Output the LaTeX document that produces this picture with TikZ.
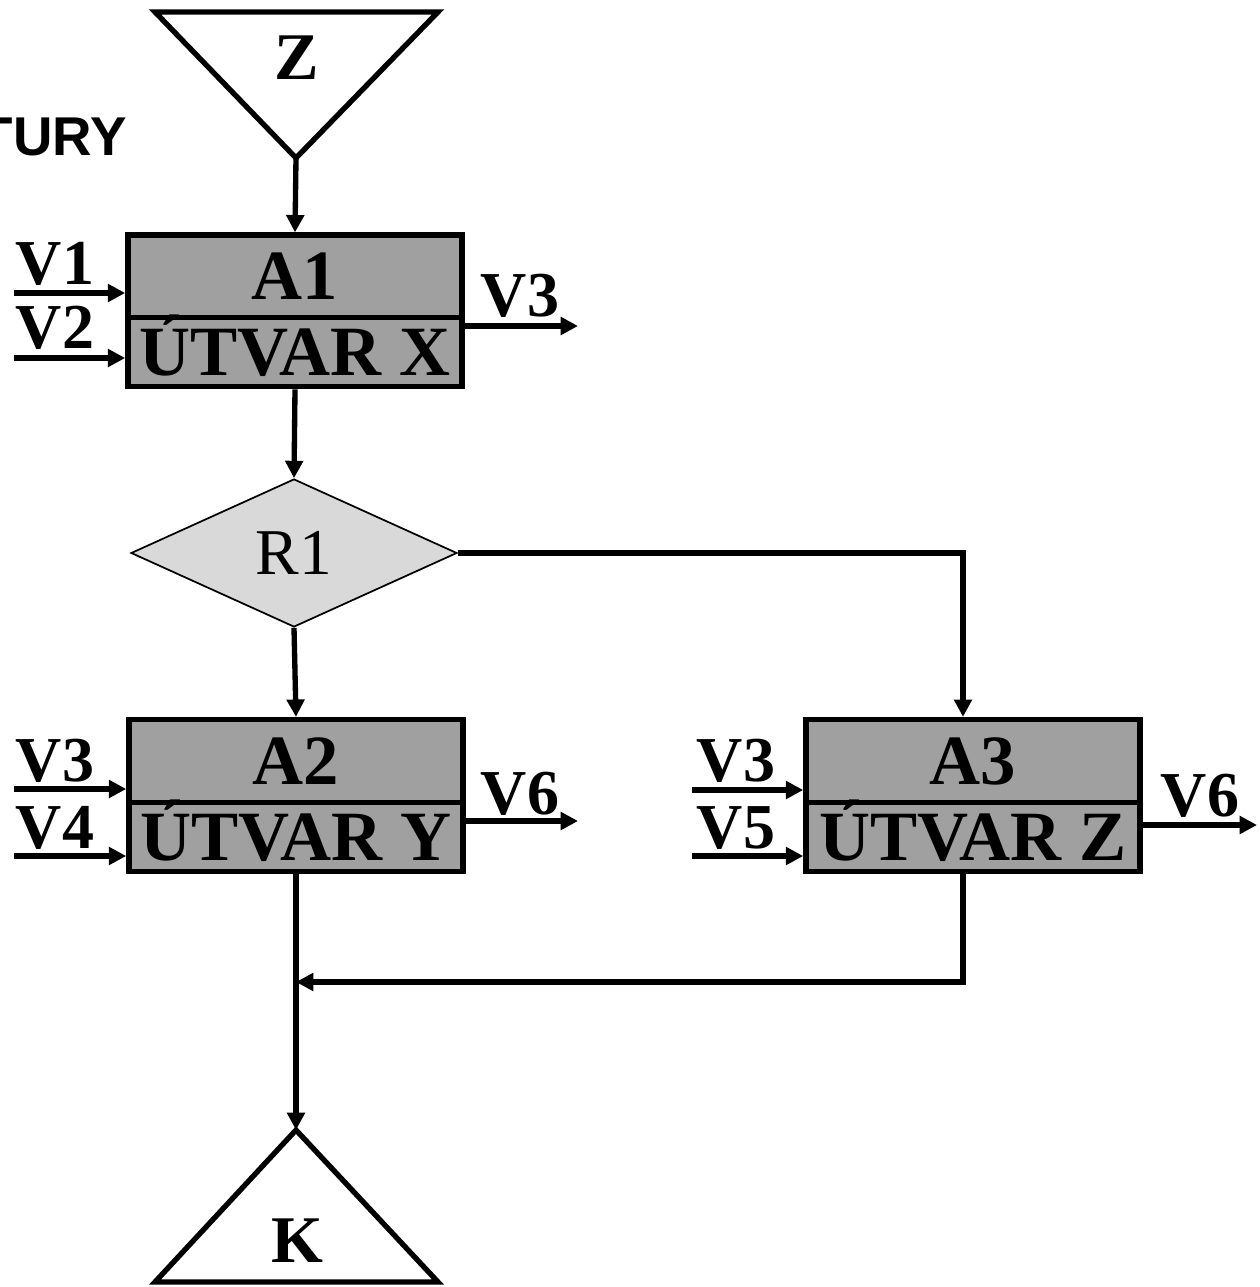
\documentclass[tikz,border=0pt]{standalone}
\usepackage{fontspec}
\setmainfont{Liberation Serif}
\newfontfamily\sansf{Liberation Sans}
\usetikzlibrary{arrows.meta,shapes.geometric}
\definecolor{boxgray}{HTML}{A0A0A0}
\definecolor{diagray}{HTML}{D9D9D9}
\tikzset{
  arr/.style={line width=4pt,-{Triangle[length=13pt,width=13pt]}},
  ln/.style={line width=4pt},
  tri/.style={line width=4pt,line join=miter},
  boxpart/.style={draw,line width=4.2pt,fill=boxgray,inner sep=0pt,
     minimum width=250.5pt,font=\bfseries\fontsize{53}{53}\selectfont,
     text height=35pt,text depth=0pt},
  toppart/.style={boxpart,minimum height=62pt},
  botpart/.style={boxpart,minimum height=52pt},
  vlbl/.style={anchor=base,inner sep=0pt,font=\bfseries\fontsize{48}{48}\selectfont},
  big/.style={inner sep=0pt,font=\bfseries\fontsize{50}{50}\selectfont}
}
\begin{document}
\begin{tikzpicture}[x=0.75pt,y=-0.75pt]
\useasboundingbox (0,0) rectangle (1259,1287);
% title fragment
\node[anchor=base east,inner sep=0pt,font=\sansf\bfseries\fontsize{41}{41}\selectfont] (title) at (127,156) {TURY};
% start triangle
\coordinate (zL) at (155,12);
\coordinate (zR) at (438,12);
\coordinate (zB) at (296,158);
\draw[tri] (zL) -- (zR) -- (zB) -- cycle;
\node[big,anchor=base] (Z) at (297,80) {Z};
% A1
\node[toppart] (a1t) at (295,276.5) {A1};
\node[botpart] (a1b) at (295,352) {ÚTVAR X};
% A2
\node[toppart] (a2t) at (296,761) {A2};
\node[botpart] (a2b) at (296,837) {ÚTVAR Y};
% A3
\node[toppart] (a3t) at (973,761) {A3};
\node[botpart] (a3b) at (973,837) {ÚTVAR Z};
% decision
\node[diamond,draw,line width=1.3pt,fill=diagray,inner sep=0pt,aspect=2.2,
      minimum width=244.5pt,minimum height=111pt,
      font=\fontsize{49}{49}\selectfont] (r1) at (294,553) {R1};
% end triangle
\coordinate (kT) at (296,1130);
\coordinate (kL) at (155,1282);
\coordinate (kR) at (438,1282);
\draw[tri] (kT) -- (kR) -- (kL) -- cycle;
\node[big,anchor=base] (K) at (297,1262) {K};
% external inputs / outputs
\coordinate (v1s) at (14,293);
\coordinate (v2s) at (14,358);
\coordinate (v3e) at (578,326);
\coordinate (v3s) at (14,789);
\coordinate (v4s) at (14,856);
\coordinate (v6e) at (578,821);
\coordinate (v3bs) at (692,790);
\coordinate (v5s) at (692,856);
\coordinate (v6be) at (1257,825);
\coordinate (join) at (296,982);
\draw[arr] (v1s) -- (v1s -| a1t.west);
\draw[arr] (v2s) -- (v2s -| a1b.west);
\draw[arr] (v3e -| a1b.east) -- (v3e);
\draw[arr] (v3s) -- (v3s -| a2t.west);
\draw[arr] (v4s) -- (v4s -| a2b.west);
\draw[arr] (v6e -| a2b.east) -- (v6e);
\draw[arr] (v3bs) -- (v3bs -| a3t.west);
\draw[arr] (v5s) -- (v5s -| a3b.west);
\draw[arr] (v6be -| a3b.east) -- (v6be);
\node[vlbl] (lv1) at (55,285) {V1};
\node[vlbl] (lv2) at (55,348) {V2};
\node[vlbl] (lv3) at (520,316) {V3};
\node[vlbl] (lv3b) at (55,781) {V3};
\node[vlbl] (lv4) at (55,848) {V4};
\node[vlbl] (lv6) at (520,814) {V6};
\node[vlbl] (lv3c) at (736,781) {V3};
\node[vlbl] (lv5) at (736,848) {V5};
\node[vlbl] (lv6b) at (1200,816) {V6};
% flow
\draw[arr] (zB) -- (a1t.north);
\draw[arr] (a1b.south) -- (r1.north);
\draw[arr] (r1.south) -- (a2t.north);
\draw[arr] (r1.east) -| ([xshift=-7.5pt]a3t.north);
\draw[ln] (a2b.south) -- (join);
\draw[arr] ([xshift=-7.5pt]a3b.south) |- (join);
\draw[arr] (join) -- (kT);
\end{tikzpicture}
\end{document}
